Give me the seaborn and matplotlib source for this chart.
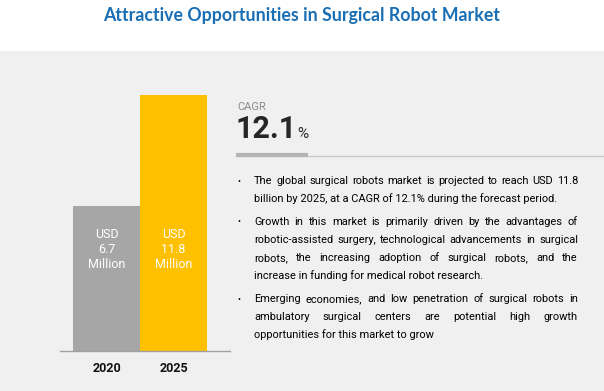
import matplotlib
matplotlib.use("Agg")
import matplotlib.pyplot as plt
import matplotlib.transforms as mtransforms
from matplotlib.patches import Rectangle
import seaborn as sns

# data
years = ["2020", "2025"]
values = [6.7, 11.8]
bar_labels = ["USD\n6.7\nMillion", "USD\n11.8\nMillion"]
bar_colors = ["#a6a6a6", "#ffc000"]
cagr = "12.1"
title = "Attractive Opportunities in Surgical Robot Market"
bullets = [
    ["The global surgical robots market is projected to reach USD 11.8",
     "billion by 2025, at a CAGR of 12.1% during the forecast period."],
    ["Growth in this market is primarily driven by the advantages of",
     "robotic-assisted surgery, technological advancements in surgical",
     "robots, the increasing adoption of surgical robots, and the",
     "increase in funding for medical robot research."],
    ["Emerging economies, and low penetration of surgical robots in",
     "ambulatory surgical centers are potential high growth",
     "opportunities for this market to grow"],
]

sns.set_theme(style="white")
plt.rcParams["font.family"] = ["Roboto", "DejaVu Sans"]

W, H = 604, 391
fig = plt.figure(figsize=(W / 100, H / 100), dpi=100)
fig.patch.set_facecolor("white")
rend = fig.canvas.get_renderer()


def text_width(s, **kw):
    t = fig.text(0, 0, s, **kw)
    w = t.get_window_extent(rend).width
    t.remove()
    return w


# gray panel
fig.add_artist(Rectangle((0, 0), 1, 340 / H, transform=fig.transFigure,
                         facecolor="#f0f0f0", edgecolor="none", zorder=0))

# title, sized to the reference width
tfs = 13
while text_width(title, fontsize=tfs, fontweight="bold", family=["Lato"]) > 398:
    tfs -= 0.1
fig.text(0.5, 1 - 16 / H, title, ha="center", va="center", fontsize=tfs,
         fontweight="bold", color="#1a6fb4", family=["Lato", "DejaVu Sans"])

# bar chart
ax = fig.add_axes([60 / W, 40 / H, 170 / W, 256 / H])
ax.set_facecolor("none")
sns.barplot(x=years, y=values, hue=years, palette=bar_colors, legend=False,
            width=1.0, edgecolor="none", saturation=1, ax=ax)
ax.set_xlim(-0.694, 1.843)
ax.set_ylim(0, max(values))
ax.set_yticks([])
for s in ["top", "right", "left"]:
    ax.spines[s].set_visible(False)
ax.spines["bottom"].set_color("#a0a0a0")
ax.spines["bottom"].set_linewidth(1)
ax.tick_params(axis="x", length=0, pad=8, labelsize=9, labelcolor="#111111")
for t in ax.get_xticklabels():
    t.set_fontweight("bold")
trans = mtransforms.blended_transform_factory(ax.transData, ax.transAxes)
for i, lab in enumerate(bar_labels):
    ax.text(i, 0.395, lab, transform=trans, ha="center", va="center",
            color="white", fontsize=9, linespacing=1.2)

# CAGR block
fig.text(237 / W, 1 - 107 / H, "CAGR", ha="left", va="center",
         fontsize=8, color="#8c8c8c")
t = fig.text(236 / W, 1 - 129 / H, cagr, ha="left", va="center",
             fontsize=22, fontweight="bold", color="#262626")
bb = t.get_window_extent(rend)
fig.text(bb.x1 / W, 1 - 134 / H, "%", ha="left", va="center",
         fontsize=11, color="#262626")
fig.add_artist(plt.Line2D([236 / W, 1], [1 - 156 / H] * 2, color="#c8c8c8",
                          lw=1, transform=fig.transFigure))
fig.add_artist(plt.Line2D([236 / W, 308 / W], [1 - 155 / H] * 2, color="#b4b4b4",
                          lw=3, transform=fig.transFigure, solid_capstyle="butt"))

# bullets, justified to the reference column
x0, x1 = 254, 578
fs = 8.5
while max(text_width(l, fontsize=fs) for p in bullets for l in p) > (x1 - x0) - 4:
    fs -= 0.1

y = 181
for para in bullets:
    fig.text(237 / W, 1 - y / H, "\u2022", ha="left", va="center",
             fontsize=fs - 1.5, color="black")
    for k, line in enumerate(para):
        yy = 1 - (y + 18 * k) / H
        words = line.split()
        if k == len(para) - 1:
            fig.text(x0 / W, yy, line, ha="left", va="center", fontsize=fs,
                     color="black")
            continue
        widths = [text_width(w, fontsize=fs) for w in words]
        gap = ((x1 - x0) - sum(widths)) / (len(words) - 1)
        x = x0
        for w, wd in zip(words, widths):
            fig.text(x / W, yy, w, ha="left", va="center", fontsize=fs,
                     color="black")
            x += wd + gap
    y += 18 * len(para) + 5

fig.savefig("out.png", dpi=100)
